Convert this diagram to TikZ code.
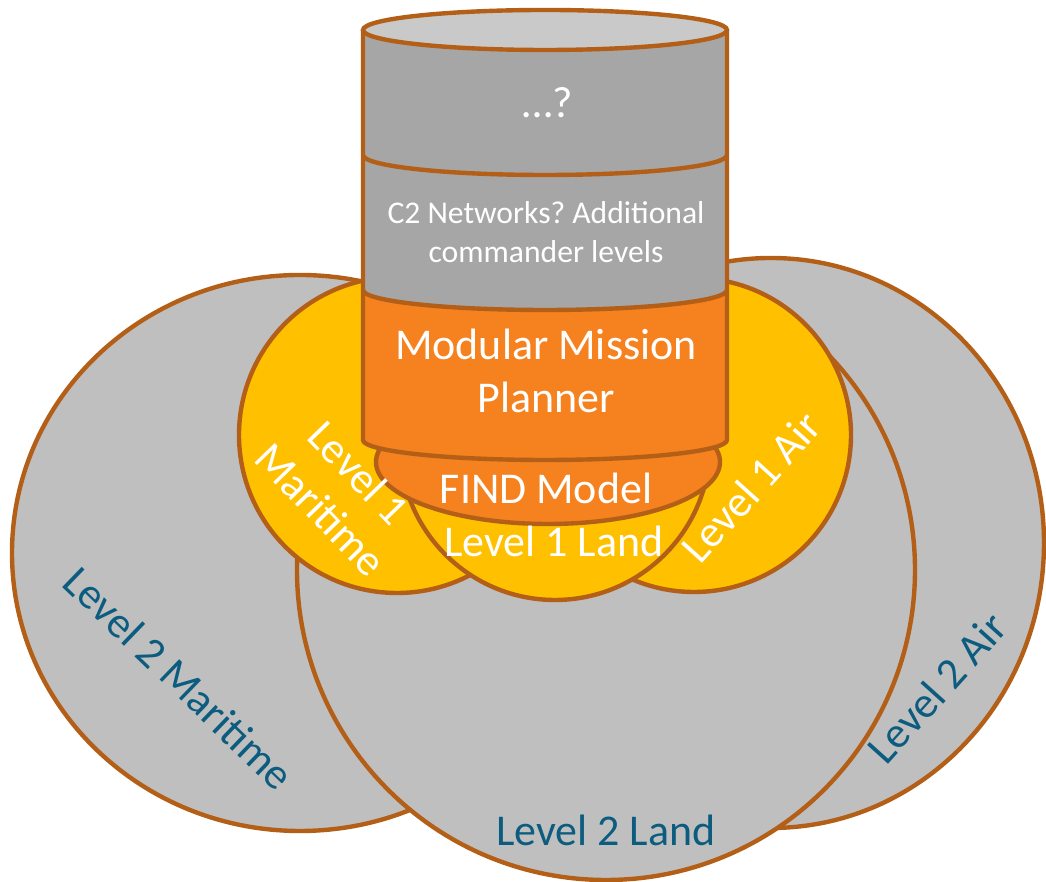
\documentclass[tikz,border=0pt]{standalone}
\usepackage{fontspec}
\setmainfont{Carlito}
\usepackage{xcolor}
\frenchspacing

\definecolor{rim}{HTML}{B45F17}
\definecolor{ring}{HTML}{BFBFBF}
\definecolor{gold}{HTML}{FFC000}
\definecolor{tangerine}{HTML}{F5821F}
\definecolor{drum}{HTML}{A6A6A6}
\definecolor{lid}{HTML}{C9C9C9}
\definecolor{deepteal}{HTML}{0B5C7E}

\begin{document}
\begin{tikzpicture}[x=0.02cm, y=0.02cm,
    blob/.style={fill=#1, draw=rim, line width=2.5pt},
    edge/.style={draw=rim, line width=2.5pt, line join=round},
    inner/.style={font=\fontsize{25}{30}\selectfont, text=white, align=center},
    outer/.style={font=\fontsize{25}{30}\selectfont, text=deepteal}]
    \useasboundingbox (0,0) rectangle (1046,882);

    % level 2 rings
    \draw[blob=ring] (300,329) ellipse [x radius=288, y radius=278];
    \draw[blob=ring] (771,339) ellipse [x radius=273, y radius=285];
    \draw[blob=ring] (606,312) ellipse [x radius=309, y radius=310];

    % level 1 discs
    \draw[blob=gold] (397,447) circle [radius=158];
    \draw[blob=gold] (694,447) circle [radius=157];
    \draw[blob=gold] (555,437) circle [radius=155];

    % FIND model base
    \draw[blob=tangerine] (548,420) ellipse [x radius=172, y radius=62];

    % the stack
    \fill[drum] (363,852) -- (363,442)
        arc [start angle=180, end angle=360, x radius=182, y radius=20] -- (727,852) -- cycle;
    \fill[tangerine] (363,592) -- (363,442)
        arc [start angle=180, end angle=360, x radius=182, y radius=20] -- (727,592)
        arc [start angle=0, end angle=-180, x radius=182, y radius=20] -- cycle;
    \path[edge] (363,852) -- (363,442)
        arc [start angle=180, end angle=360, x radius=182, y radius=20] -- (727,852);
    \path[edge] (363,727) arc [start angle=180, end angle=360, x radius=182, y radius=20];
    \path[edge] (363,592) arc [start angle=180, end angle=360, x radius=182, y radius=20];
    \draw[blob=lid] (545,852) ellipse [x radius=182, y radius=20];

    % labels
    \node[inner] (unknown) at (548,779) {…?};
    \node[inner, font=\fontsize{18}{22}\selectfont] (ctwo) at (546,650) {C2 Networks? Additional\\commander levels};
    \node[inner] (mmp) at (546,511) {Modular Mission\\Planner};
    \node[inner] (find) at (546,394) {FIND Model};
    \node[inner] (land1) at (554,341) {Level 1 Land};
    \node[inner, rotate=-46] (mar1) at (340,391) {Level 1\\Maritime};
    \node[inner, rotate=48] (air1) at (751,395) {Level 1 Air};
    \node[outer, rotate=-44] (mar2) at (179,204) {Level 2 Maritime};
    \node[outer, rotate=48] (air2) at (937,194) {Level 2 Air};
    \node[outer] (land2) at (606,52) {Level 2 Land};
\end{tikzpicture}
\end{document}
